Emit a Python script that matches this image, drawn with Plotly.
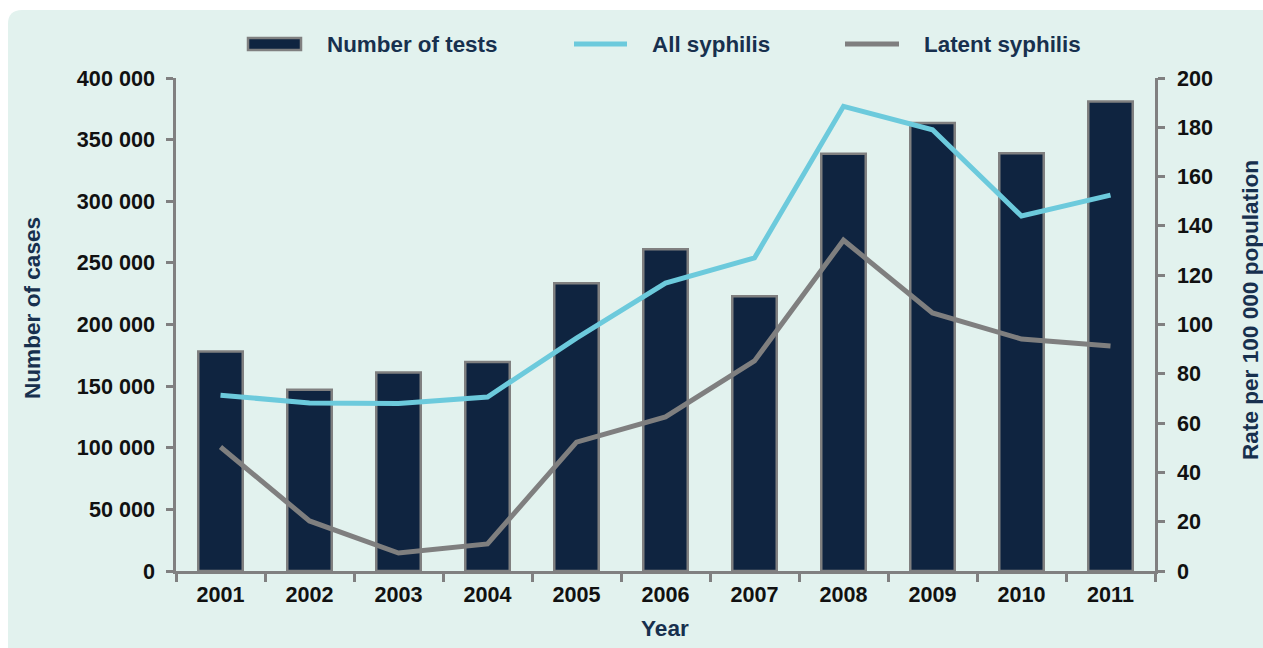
import plotly.graph_objects as go

# Data
years = ["2001", "2002", "2003", "2004", "2005", "2006", "2007", "2008", "2009", "2010", "2011"]
tests = [178000, 147000, 161000, 169500, 233500, 261000, 223000, 338500, 363500, 339000, 381000]
all_syphilis = [71.3, 68.2, 68.0, 70.6, 94.5, 116.8, 127.0, 188.5, 179.0, 144.0, 152.5]
latent_syphilis = [50.3, 20.3, 7.3, 11.0, 52.3, 62.5, 85.2, 134.2, 104.7, 94.1, 91.3]

legend_labels = ["Number of tests", "All syphilis", "Latent syphilis"]
left_title = "Number of cases"
right_title = "Rate per 100 000 population"
x_title = "Year"

# Styling
W, H = 1263, 648
ML, MR, MT, MB = 176, 108, 78, 77
PW, PH = W - ML - MR, H - MT - MB
NAVY = "#0f2440"
OUTLINE = "#808080"
BLUE = "#6ccadc"
GREY = "#7f7f7f"
TXT = "#17304e"
BG = "#e2f2ee"
FONT = "Liberation Sans, Arial, sans-serif"
TICK_SIZE = 21.6
LEGEND_SIZE = 22.4
TITLE_SIZE = 22.6


def px_x(x):
    return (x - ML) / PW


def px_y(y):
    return (H - MB - y) / PH


fig = go.Figure()

fig.add_trace(go.Bar(
    x=years, y=tests, name=legend_labels[0], width=0.5,
    marker=dict(color=NAVY, line=dict(color=OUTLINE, width=2.5)),
    showlegend=False, yaxis="y",
))
fig.add_trace(go.Scatter(
    x=years, y=all_syphilis, name=legend_labels[1], mode="lines",
    line=dict(color=BLUE, width=5), showlegend=False, yaxis="y2",
))
fig.add_trace(go.Scatter(
    x=years, y=latent_syphilis, name=legend_labels[2], mode="lines",
    line=dict(color=GREY, width=5), showlegend=False, yaxis="y2",
))

shapes = []
# rounded panel behind the chart
r = 14
x0, y0, x1, y1 = 8, 10, W + 20, H + 20
path = (
    f"M {px_x(x0)},{px_y(y0 + r)} "
    f"Q {px_x(x0)},{px_y(y0)} {px_x(x0 + r)},{px_y(y0)} "
    f"L {px_x(x1)},{px_y(y0)} L {px_x(x1)},{px_y(y1)} "
    f"L {px_x(x0)},{px_y(y1)} Z"
)
shapes.append(dict(type="path", path=path, xref="paper", yref="paper",
                   fillcolor=BG, line=dict(width=0), layer="below"))

# legend keys
ly = 44
shapes.append(dict(type="rect", xref="paper", yref="paper",
                   x0=px_x(248), x1=px_x(301), y0=px_y(ly - 6), y1=px_y(ly + 6),
                   fillcolor=NAVY, line=dict(color=OUTLINE, width=2.5)))
shapes.append(dict(type="line", xref="paper", yref="paper",
                   x0=px_x(574), x1=px_x(627), y0=px_y(ly), y1=px_y(ly),
                   line=dict(color=BLUE, width=5)))
shapes.append(dict(type="line", xref="paper", yref="paper",
                   x0=px_x(845), x1=px_x(899), y0=px_y(ly), y1=px_y(ly),
                   line=dict(color=GREY, width=5)))

annotations = []
for label, xpx in zip(legend_labels, [325, 650, 922]):
    annotations.append(dict(text=f"<b>{label}</b>", x=px_x(xpx), y=px_y(ly),
                            xref="paper", yref="paper", xanchor="left", yanchor="middle",
                            showarrow=False, font=dict(size=LEGEND_SIZE, color=TXT, family=FONT)))
annotations.append(dict(text=f"<b>{left_title}</b>", x=px_x(32), y=px_y(308),
                        xref="paper", yref="paper", xanchor="center", yanchor="middle",
                        textangle=-90, showarrow=False,
                        font=dict(size=TITLE_SIZE, color=TXT, family=FONT)))
annotations.append(dict(text=f"<b>{right_title}</b>", x=px_x(1250), y=px_y(310),
                        xref="paper", yref="paper", xanchor="center", yanchor="middle",
                        textangle=-90, showarrow=False,
                        font=dict(size=TITLE_SIZE, color=TXT, family=FONT)))
annotations.append(dict(text=f"<b>{x_title}</b>", x=px_x(665), y=px_y(628),
                        xref="paper", yref="paper", xanchor="center", yanchor="middle",
                        showarrow=False, font=dict(size=TITLE_SIZE, color=TXT, family=FONT)))

axis_common = dict(showline=True, linecolor=OUTLINE, linewidth=2.5, ticks="outside",
                   tickcolor=OUTLINE, tickwidth=2.5, showgrid=False, zeroline=False,
                   tickfont=dict(size=TICK_SIZE, color="#111111", family=FONT))

fig.update_layout(
    width=W, height=H,
    margin=dict(l=ML, r=MR, t=MT, b=MB, pad=0),
    paper_bgcolor="white", plot_bgcolor="rgba(0,0,0,0)",
    separators=". ",
    font=dict(family=FONT),
    showlegend=False,
    bargap=0.5,
    xaxis=dict(**axis_common, type="category", tickson="boundaries", ticklen=8,
               ticklabelstandoff=2,
               tickprefix="<b>", ticksuffix="</b>", range=[-0.5, 10.5]),
    yaxis=dict(**axis_common, range=[0, 400000], dtick=50000, tickformat=",d",
               ticklen=7, ticklabelstandoff=7, tickprefix="<b>", ticksuffix="</b>"),
    yaxis2=dict(**axis_common, range=[0, 200], dtick=20, overlaying="y", side="right",
                ticklen=7, ticklabelstandoff=8, tickprefix="<b>", ticksuffix="</b>"),
    shapes=shapes,
    annotations=annotations,
)

fig.write_html("out.html")
